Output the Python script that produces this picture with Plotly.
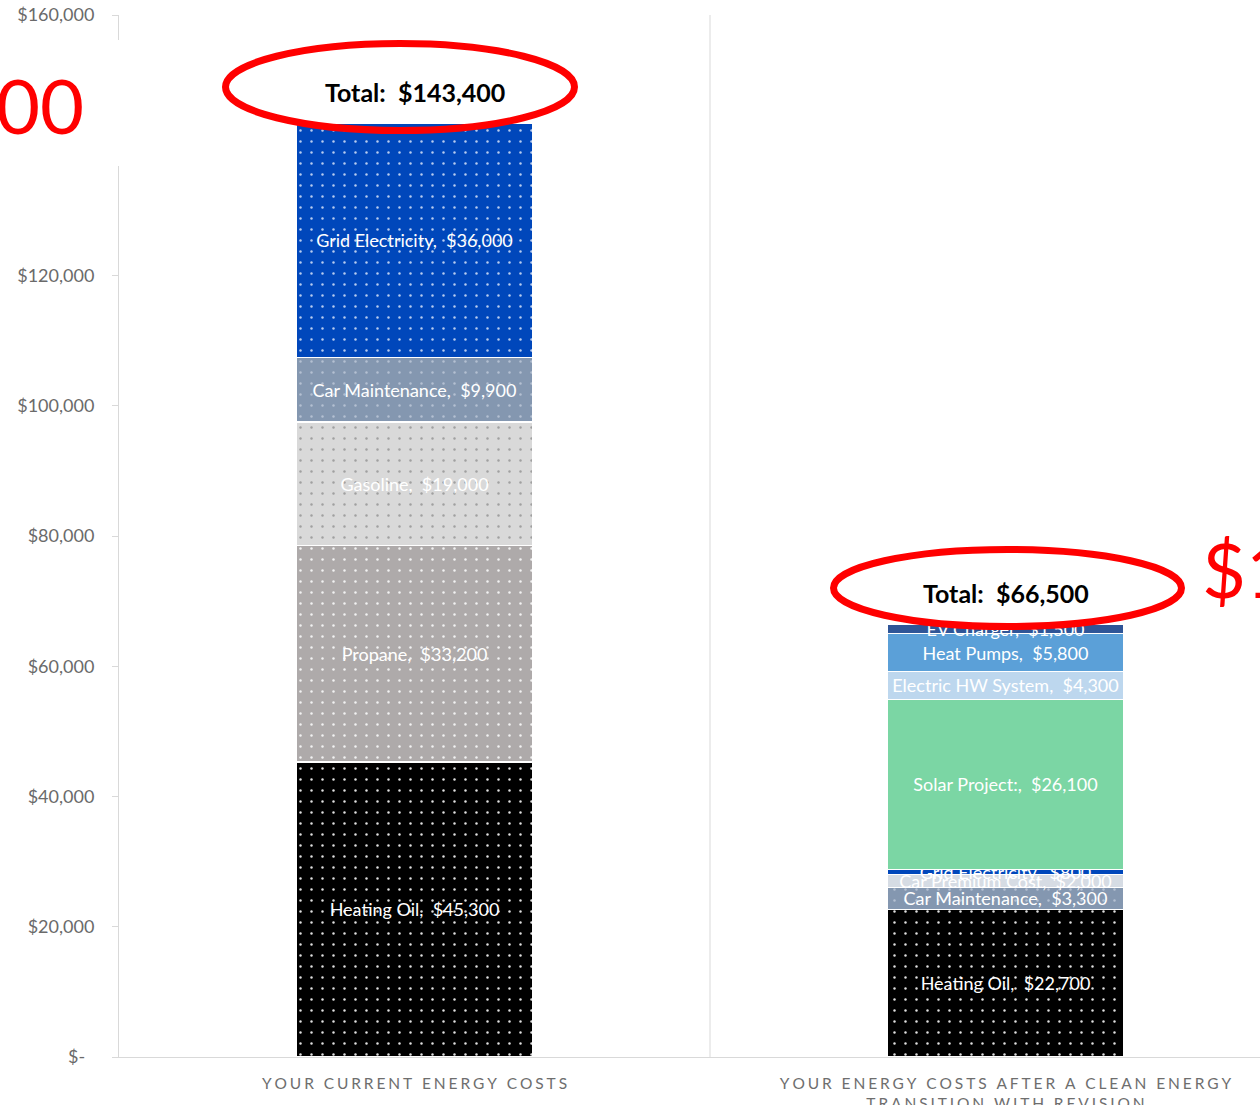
import plotly.graph_objects as go

# ---- data -------------------------------------------------------------
categories = ["YOUR CURRENT ENERGY COSTS",
              "YOUR ENERGY COSTS AFTER A CLEAN ENERGY|TRANSITION WITH REVISION"]

series_names = ["Heating Oil", "Propane", "Gasoline", "Car Maintenance",
                "Car Premium Cost", "Grid Electricity", "Solar Project:",
                "Electric HW System", "Heat Pumps", "EV Charger"]

current_costs = [45300, 33200, 19000, 9900, None, 36000, None, None, None, None]
after_costs = [22700, None, None, 3300, 2000, 800, 26100, 4300, 5800, 1500]

y_tick_values = [0, 20000, 40000, 60000, 80000, 100000, 120000, 140000, 160000]
y_tick_labels = ["$-\u00a0\u00a0", "$20,000", "$40,000", "$60,000", "$80,000",
                 "$100,000", "$120,000", "$140,000", "$160,000"]

# ---- styles -----------------------------------------------------------
fill_colors = {
    "Heating Oil": "#000000",
    "Propane": "#AEAAAA",
    "Gasoline": "#D9D9D9",
    "Car Maintenance": "#8497B0",
    "Car Premium Cost": "#D6DCE4",
    "Grid Electricity": "#0047BB",
    "Solar Project:": "#7BD6A4",
    "Electric HW System": "#BDD7EE",
    "Heat Pumps": "#5BA0D8",
    "EV Charger": "#2F5597",
}
dot_colors = {
    "Heating Oil": "#E0E0E0",
    "Propane": "#F2F2F2",
    "Gasoline": "#A0A0A0",
    "Car Maintenance": "#B4C0D2",
    "Grid Electricity": "#B8CCF0",
}

FONT = "Lato"
W, H = 1260, 1105
M_L, M_R, M_T, M_B = 119, 0, 15, 48
PLOT_W = W - M_L - M_R
PLOT_H = H - M_T - M_B


def px_x(x):
    """Pixel column -> paper x."""
    return (x - M_L) / PLOT_W


def px_y(y):
    """Pixel row -> paper y."""
    return (H - M_B - y) / PLOT_H


def spaced(text):
    """Widen the tracking of an axis title with thin + hair spaces."""
    lines = text.split("|")
    return "<br>".join("\u2009\u200a".join(line) for line in lines)


def money(v):
    return f"${v:,.0f}"


tick_text = [spaced(c) for c in categories]

fig = go.Figure()

for i, name in enumerate(series_names):
    vals = [current_costs[i], after_costs[i]]
    labels = [f"{name},\u00a0 {money(v)}" if v is not None else "" for v in vals]
    pattern = None
    if name in dot_colors:
        pattern = dict(shape=".", fgcolor=dot_colors[name], bgcolor=fill_colors[name],
                       size=11, solidity=0.04, fillmode="replace")
    fig.add_trace(go.Bar(
        name=name,
        x=tick_text,
        y=vals,
        width=0.4,
        text=labels,
        textposition="inside",
        insidetextanchor="middle",
        textangle=0,
        textfont=dict(family=FONT, size=18, color="#FFFFFF"),
        marker=dict(color=fill_colors[name], line=dict(color="#FFFFFF", width=1.2),
                    pattern=pattern),
        hoverinfo="skip",
    ))

# stack totals above each bar
totals = [sum(v for v in current_costs if v is not None),
          sum(v for v in after_costs if v is not None)]
for cat, tot in zip(tick_text, totals):
    fig.add_annotation(x=cat, y=tot, yshift=31, xref="x", yref="y",
                       text=f"<b>Total:\u00a0 {money(tot)}</b>", showarrow=False,
                       font=dict(family=FONT, size=25, color="#000000"),
                       xanchor="center", yanchor="middle")

shapes = []
# category divider
shapes.append(dict(type="line", xref="x", yref="paper", x0=0.5, x1=0.5, y0=0, y1=1,
                   line=dict(color="#D9D9D9", width=1), layer="below"))
# red ellipses around the totals
shapes.append(dict(type="circle", xref="paper", yref="paper",
                   x0=px_x(225.5), x1=px_x(574.5), y0=px_y(130.5), y1=px_y(43.5),
                   line=dict(color="#FF0000", width=7), layer="above"))
shapes.append(dict(type="circle", xref="paper", yref="paper",
                   x0=px_x(833.5), x1=px_x(1181.5), y0=px_y(626.5), y1=px_y(549.5),
                   line=dict(color="#FF0000", width=7), layer="above"))
# white text box behind the red call-out at left
shapes.append(dict(type="rect", xref="paper", yref="paper",
                   x0=px_x(-5), x1=px_x(126), y0=px_y(166), y1=px_y(40),
                   fillcolor="#FFFFFF", line=dict(width=0), layer="above"))

fig.add_annotation(xref="paper", yref="paper", x=px_x(86), y=px_y(104),
                   text="00", showarrow=False, xanchor="right", yanchor="middle",
                   font=dict(family=FONT, size=76, color="#FF0000"))
fig.add_annotation(xref="paper", yref="paper", x=px_x(1200), y=px_y(568),
                   text="$1", showarrow=False, xanchor="left", yanchor="middle",
                   font=dict(family=FONT, size=76, color="#FF0000"))

fig.update_layout(
    width=W, height=H,
    margin=dict(l=M_L, r=M_R, t=M_T, b=M_B, pad=0, autoexpand=False),
    barmode="stack",
    showlegend=False,
    plot_bgcolor="#FFFFFF",
    paper_bgcolor="#FFFFFF",
    uniformtext=dict(minsize=18, mode="show"),
    shapes=shapes,
    font=dict(family=FONT),
)
fig.update_xaxes(type="category", range=[-0.5, -0.5 + PLOT_W / 591.0],
                 automargin=False,
                 showline=True, linecolor="#D9D9D9", linewidth=1,
                 ticks="", showgrid=False, zeroline=False,
                 tickfont=dict(family=FONT, size=15.5, color="#6E6E6E"),
                 ticklabelstandoff=12)
fig.update_yaxes(range=[0, 160000], tickvals=y_tick_values, ticktext=y_tick_labels,
                 automargin=False,
                 showline=True, linecolor="#D9D9D9", linewidth=1,
                 ticks="outside", ticklen=6, tickcolor="#D9D9D9",
                 showgrid=False, zeroline=False,
                 tickfont=dict(family=FONT, size=18, color="#6A6A6A"),
                 ticklabelstandoff=14)

fig.write_html("out.html")
